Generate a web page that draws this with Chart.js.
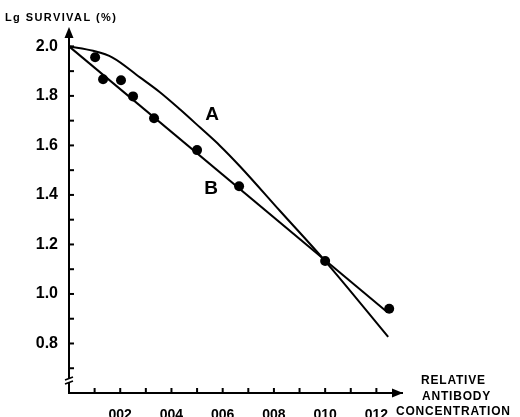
<!DOCTYPE html>
<html>
<head>
<meta charset="utf-8">
<script src="https://cdn.jsdelivr.net/npm/chart.js@4.4.1/dist/chart.umd.min.js"></script>
<style>
  html, body { margin: 0; padding: 0; background: #fff; }
  #wrap { width: 520px; height: 417px; position: relative; }
</style>
</head>
<body>
<div id="wrap"><canvas id="survivalChart"></canvas></div>
<script>
// Datos
const puntosX = [0.0102, 0.0133, 0.0203, 0.025, 0.0332, 0.05, 0.0664, 0.100, 0.125];
const puntosY = [1.956, 1.867, 1.863, 1.798, 1.710, 1.581, 1.435, 1.133, 0.940];

const curvaAX = [0, 0.0094, 0.017, 0.0277, 0.0355, 0.0434, 0.0512, 0.059, 0.0668, 0.0824, 0.100, 0.1246];
const curvaAY = [2.0, 1.982, 1.955, 1.875, 1.815, 1.745, 1.672, 1.598, 1.515, 1.335, 1.133, 0.827];

const rectaBX = [0, 0.1242];
const rectaBY = [2.0, 0.927];

const ticksY = [0.7, 0.8, 0.9, 1.0, 1.1, 1.2, 1.3, 1.4, 1.5, 1.6, 1.7, 1.8, 1.9, 2.0];
const etiquetasYValor = [0.8, 1.0, 1.2, 1.4, 1.6, 1.8, 2.0];
const etiquetasY = ['0.8', '1.0', '1.2', '1.4', '1.6', '1.8', '2.0'];

const ticksX = [0.01, 0.02, 0.03, 0.04, 0.05, 0.06, 0.07, 0.08, 0.09, 0.10, 0.11, 0.12];
const etiquetasXValor = [0.02, 0.04, 0.06, 0.08, 0.10, 0.12];
const etiquetasX = ['002', '004', '006', '008', '010', '012'];

const tituloY = 'Lg SURVIVAL (%)';
const tituloX = ['RELATIVE', 'ANTIBODY', 'CONCENTRATION'];
const nombreCurvas = ['A', 'B'];
const posNombresX = [0.0559, 0.0555];
const posNombresY = [1.722, 1.423];

const zip = (xs, ys) => xs.map((x, i) => ({ x: x, y: ys[i] }));
const buscar = (valores, textos, v) => {
    const i = valores.findIndex(a => Math.abs(a - v) < 1e-6);
    return i >= 0 ? textos[i] : '';
};

const fuente = '"Liberation Sans", Arial, Helvetica, sans-serif';

// Plugin para ejes con flechas, marcas interiores y textos
const ejesPlugin = {
    id: 'ejes',
    afterDraw(chart) {
        const ctx = chart.ctx;
        const area = chart.chartArea;
        const sx = chart.scales.x;
        const sy = chart.scales.y;
        ctx.save();
        ctx.strokeStyle = '#000';
        ctx.fillStyle = '#000';
        ctx.lineWidth = 2;

        // marcas interiores eje Y
        ticksY.forEach(v => {
            const py = sy.getPixelForValue(v);
            ctx.beginPath();
            ctx.moveTo(area.left, py);
            ctx.lineTo(area.left + 5, py);
            ctx.stroke();
        });
        // marcas interiores eje X
        ticksX.forEach(v => {
            const px = sx.getPixelForValue(v);
            ctx.beginPath();
            ctx.moveTo(px, area.bottom);
            ctx.lineTo(px, area.bottom - 5);
            ctx.stroke();
        });

        // flecha eje Y
        ctx.beginPath();
        ctx.moveTo(area.left, area.top - 7);
        ctx.lineTo(area.left - 4.5, area.top + 4);
        ctx.lineTo(area.left + 4.5, area.top + 4);
        ctx.closePath();
        ctx.fill();
        // flecha eje X
        ctx.beginPath();
        ctx.moveTo(area.right + 1, area.bottom);
        ctx.lineTo(area.right - 10, area.bottom - 4.5);
        ctx.lineTo(area.right - 10, area.bottom + 4.5);
        ctx.closePath();
        ctx.fill();

        // corte del eje Y
        const pc = area.bottom - 12;
        ctx.fillStyle = '#fff';
        ctx.fillRect(area.left - 3, pc - 2, 6, 3);
        ctx.lineWidth = 1.5;
        ctx.beginPath();
        ctx.moveTo(area.left - 4, pc - 1);
        ctx.lineTo(area.left + 4, pc - 4);
        ctx.moveTo(area.left - 4, pc + 3);
        ctx.lineTo(area.left + 4, pc);
        ctx.stroke();

        // textos
        ctx.fillStyle = '#000';
        ctx.textBaseline = 'middle';
        ctx.textAlign = 'left';
        ctx.font = 'bold 11px ' + fuente;
        ctx.letterSpacing = '1.4px';
        ctx.fillText(tituloY, 5, 18);

        ctx.font = 'bold 12px ' + fuente;
        ctx.letterSpacing = '0.8px';
        const inicioX = [421, 422, 396];
        tituloX.forEach((t, i) => {
            ctx.fillText(t, inicioX[i], 381 + i * 15.5);
        });

        ctx.letterSpacing = '0px';
        ctx.textAlign = 'center';
        ctx.font = 'bold 19px ' + fuente;
        nombreCurvas.forEach((n, i) => {
            ctx.fillText(n, sx.getPixelForValue(posNombresX[i]), sy.getPixelForValue(posNombresY[i]));
        });
        ctx.restore();
    }
};

const canvas = document.getElementById('survivalChart');

new Chart(canvas, {
    type: 'scatter',
    data: {
        datasets: [{
            label: 'puntos',
            data: zip(puntosX, puntosY),
            pointRadius: 5,
            pointBackgroundColor: '#000',
            pointBorderColor: '#000',
            pointBorderWidth: 0,
            showLine: false,
            order: 0
        }, {
            label: 'A',
            data: zip(curvaAX, curvaAY),
            showLine: true,
            borderColor: '#000',
            borderWidth: 2,
            pointRadius: 0,
            cubicInterpolationMode: 'monotone',
            order: 1
        }, {
            label: 'B',
            data: zip(rectaBX, rectaBY),
            showLine: true,
            borderColor: '#000',
            borderWidth: 2,
            pointRadius: 0,
            order: 1
        }]
    },
    options: {
        responsive: true,
        maintainAspectRatio: false,
        animation: false,
        layout: {
            padding: { top: 34, right: 118, bottom: 0, left: 0 }
        },
        plugins: {
            legend: { display: false },
            tooltip: { enabled: false }
        },
        scales: {
            x: {
                type: 'linear',
                min: 0,
                max: 0.13,
                afterFit: scale => { scale.height = 24; },
                afterBuildTicks: scale => { scale.ticks = ticksX.map(v => ({ value: v })); },
                grid: { display: false, drawTicks: false },
                border: { display: true, color: '#000', width: 2 },
                ticks: {
                    padding: 14,
                    color: '#000',
                    autoSkip: false,
                    maxRotation: 0,
                    font: { family: fuente, size: 14, weight: 'bold' },
                    callback: v => buscar(etiquetasXValor, etiquetasX, v)
                }
            },
            y: {
                type: 'linear',
                min: 0.6,
                max: 2.05,
                afterFit: scale => { scale.width = 69; },
                afterBuildTicks: scale => { scale.ticks = ticksY.map(v => ({ value: v })); },
                grid: { display: false, drawTicks: false },
                border: { display: true, color: '#000', width: 2 },
                ticks: {
                    padding: 11,
                    color: '#000',
                    autoSkip: false,
                    font: { family: fuente, size: 16, weight: 'bold' },
                    callback: v => buscar(etiquetasYValor, etiquetasY, v)
                }
            }
        }
    },
    plugins: [ejesPlugin]
});
</script>
</body>
</html>
